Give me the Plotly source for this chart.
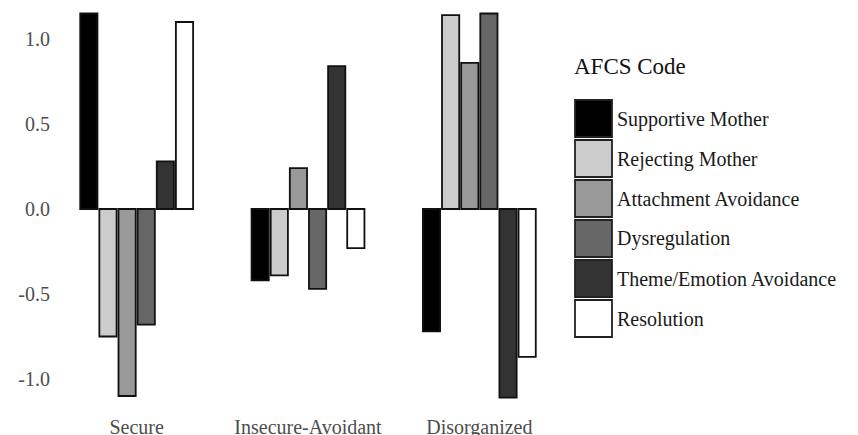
import plotly.graph_objects as go

categories = ["Secure", "Insecure-Avoidant", "Disorganized"]
series_names = ["Supportive Mother", "Rejecting Mother", "Attachment Avoidance",
                "Dysregulation", "Theme/Emotion Avoidance", "Resolution"]
supportive_mother = [1.15, -0.42, -0.72]
rejecting_mother = [-0.75, -0.39, 1.14]
attachment_avoidance = [-1.10, 0.24, 0.86]
dysregulation = [-0.68, -0.47, 1.15]
theme_emotion_avoidance = [0.28, 0.84, -1.11]
resolution = [1.10, -0.23, -0.87]
series_values = [supportive_mother, rejecting_mother, attachment_avoidance,
                 dysregulation, theme_emotion_avoidance, resolution]
colors = ["#000000", "#cccccc", "#999999", "#666666", "#333333", "#ffffff"]
tick_vals = [1.0, 0.5, 0.0, -0.5, -1.0]
tick_text = ["1.0", "0.5", "0.0", "-0.5", "-1.0"]
legend_title = "AFCS Code"

W, H = 858, 435
ML, MR, MT, MB = 51, 293, 5, 22
PW, PH = W - ML - MR, H - MT - MB
FONT = "Liberation Serif, Times New Roman, serif"

fig = go.Figure()
for name, vals, col in zip(series_names, series_values, colors):
    fig.add_trace(go.Bar(x=categories, y=vals, name=name, marker_color=col,
                         marker_line_color="#111111", marker_line_width=1.8,
                         showlegend=False))

def px_x(p):
    return (p - ML) / PW

def px_y(p):
    return (H - MB - p) / PH

shapes = []
annotations = [dict(text=legend_title, xref="paper", yref="paper",
                    x=px_x(572), y=px_y(66), xanchor="left", yanchor="middle",
                    showarrow=False, font=dict(family=FONT, size=23, color="#111111"))]
for i, (name, col) in enumerate(zip(series_names, colors)):
    top = 100 + 40 * i
    shapes.append(dict(type="rect", xref="paper", yref="paper",
                       x0=px_x(575), x1=px_x(612), y0=px_y(top), y1=px_y(top + 37),
                       fillcolor=col, line=dict(color="#222222", width=1.8)))
    annotations.append(dict(text=name, xref="paper", yref="paper",
                            x=px_x(615), y=px_y(top + 19), xanchor="left", yanchor="middle",
                            showarrow=False, font=dict(family=FONT, size=20, color="#1a1a1a")))

fig.update_layout(
    width=W, height=H,
    margin=dict(l=ML, r=MR, t=MT, b=MB, pad=0),
    paper_bgcolor="white", plot_bgcolor="white",
    barmode="group", bargap=0.33, bargroupgap=0.1,
    font=dict(family=FONT, size=20, color="#4d4d4d"),
    shapes=shapes, annotations=annotations,
    xaxis=dict(showgrid=False, showline=False, zeroline=False, ticks="",
               automargin=False,
               tickfont=dict(family=FONT, size=20, color="#4d4d4d")),
    yaxis=dict(range=[-1.2, 1.2], showgrid=False, showline=False, zeroline=False,
               tickvals=tick_vals, ticktext=tick_text, ticks="", automargin=False,
               tickfont=dict(family=FONT, size=20, color="#4d4d4d")),
)
fig.write_html("out.html", config={"displayModeBar": False},
               post_script="document.body.style.margin='0';document.body.style.overflow='hidden';")
